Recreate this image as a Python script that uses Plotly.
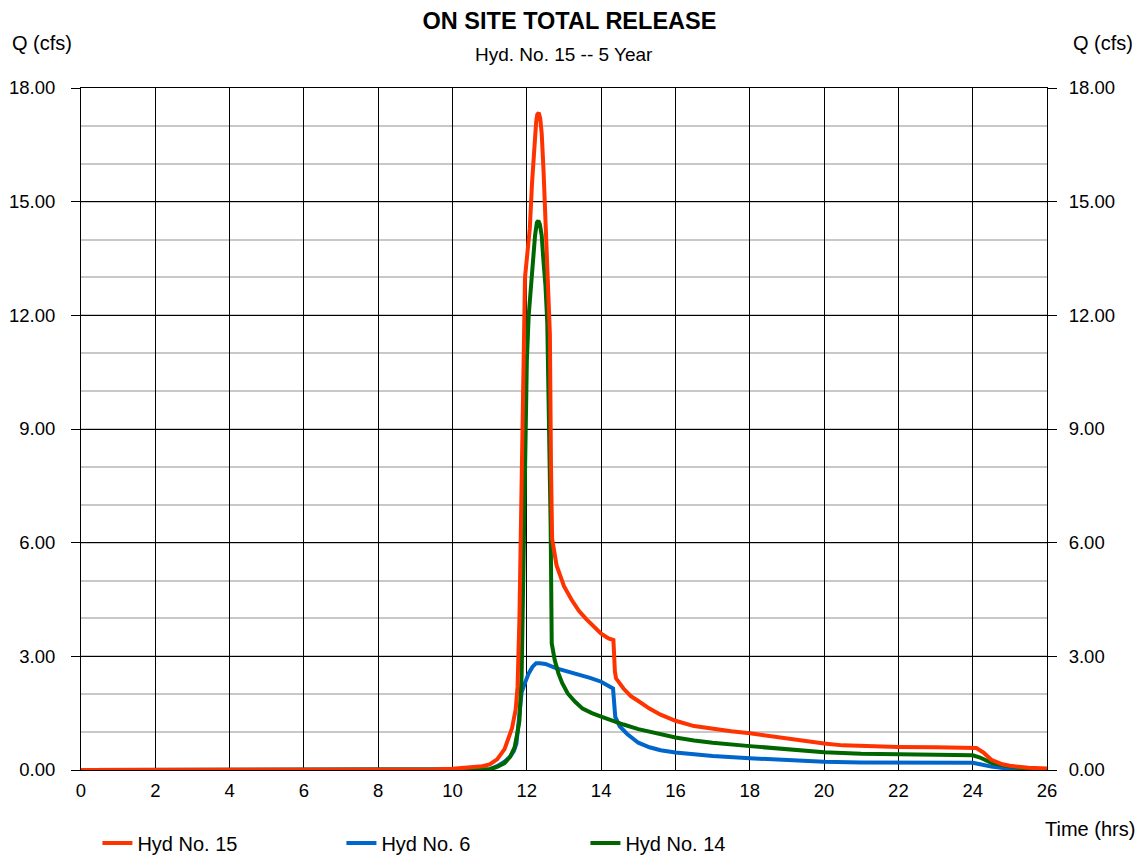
import plotly.graph_objects as go

# ---- data ----
t_hyd15 = [0, 9.0, 9.5, 10.0, 10.5, 10.8, 11.0, 11.2, 11.4, 11.5, 11.6, 11.7, 11.75, 11.8, 11.85,
           11.9, 11.95, 12.0, 12.08, 12.14, 12.2, 12.25, 12.28, 12.32, 12.36, 12.4, 12.45, 12.53,
           12.62, 12.65, 12.68,
           12.8, 12.9, 13.0, 13.2, 13.4, 13.6, 13.8, 14.0, 14.2, 14.33, 14.37, 14.4, 14.6, 14.8,
           15.0, 15.3, 15.6, 16.0, 16.5, 17.0, 17.5, 18.0, 18.5, 19.0, 19.5, 20.0, 20.5, 21.0,
           22.0, 23.0, 24.0, 24.1, 24.3, 24.5, 24.8, 25.0, 25.5, 26.0]
q_hyd15 = [0, 0.0, 0.01, 0.03, 0.06, 0.1, 0.15, 0.28, 0.55, 0.8, 1.1, 1.6, 2.2, 4.0, 7.0,
           11.5, 13.0, 13.5, 14.3, 15.5, 16.6, 17.1, 17.3, 17.35, 17.2, 16.8, 15.8, 14.0,
           11.5, 8.0, 6.1,
           5.4, 5.1, 4.85, 4.5, 4.2, 3.98, 3.78, 3.6, 3.47, 3.43, 2.6, 2.42, 2.15, 1.95,
           1.82, 1.62, 1.46, 1.3, 1.16, 1.08, 1.02, 0.97, 0.9, 0.84, 0.77, 0.7, 0.65, 0.63,
           0.61, 0.6, 0.59, 0.58, 0.45, 0.27, 0.15, 0.11, 0.06, 0.04]

t_hyd6 = [0, 10.8, 11.0, 11.2, 11.4, 11.55, 11.65, 11.72, 11.78, 11.86, 11.95, 12.05, 12.15, 12.25,
          12.35, 12.5, 12.8, 13.1, 13.4, 13.7, 14.0, 14.32, 14.38, 14.5, 14.7, 15.0, 15.3, 15.6,
          16.0, 16.5, 17.0, 18.0, 19.0, 20.0, 21.0, 22.0, 23.0, 24.0, 24.2, 24.5, 25.0, 25.5, 26.0]
q_hyd6 = [0, 0, 0.02, 0.1, 0.22, 0.35, 0.5, 0.7, 1.2, 2.05, 2.3, 2.55, 2.72, 2.82,
          2.82, 2.8, 2.68, 2.6, 2.5, 2.43, 2.33, 2.15, 1.4, 1.15, 0.95, 0.72, 0.6, 0.52,
          0.46, 0.41, 0.37, 0.31, 0.26, 0.22, 0.2, 0.19, 0.19, 0.19, 0.15, 0.09, 0.03, 0.01, 0.0]

t_hyd14 = [0, 10.5, 10.8, 11.0, 11.2, 11.4, 11.55, 11.67, 11.75, 11.8, 11.86, 11.9, 11.95, 12.0,
           12.05, 12.15, 12.22, 12.27, 12.31, 12.35, 12.4, 12.45, 12.5, 12.55, 12.6, 12.64, 12.67,
           12.75, 12.85, 12.95, 13.1, 13.3, 13.5, 13.75, 14.0, 14.3, 14.6, 15.0, 15.5, 16.0, 16.5,
           17.0, 18.0, 19.0, 20.0, 21.0, 22.0, 23.0, 24.0, 24.2, 24.5, 25.0, 25.5, 26.0]
q_hyd14 = [0, 0, 0.0, 0.02, 0.08, 0.18, 0.35, 0.6, 1.0, 1.3, 2.5, 5.0, 8.5, 10.8,
           12.0, 13.3, 14.1, 14.45, 14.5, 14.4, 14.1, 13.4, 12.8, 11.8, 9.0, 6.5, 3.34,
           2.9, 2.55, 2.3, 2.02, 1.8, 1.62, 1.5, 1.41, 1.3, 1.2, 1.08, 0.96, 0.86, 0.78,
           0.72, 0.63, 0.55, 0.47, 0.43, 0.41, 0.40, 0.39, 0.33, 0.19, 0.09, 0.03, 0.0]

x_ticks = list(range(0, 27, 2))
y_ticks = [0, 3, 6, 9, 12, 15, 18]

FONT = "Liberation Sans, Arial, sans-serif"

fig = go.Figure()
fig.add_trace(go.Scatter(x=t_hyd6, y=q_hyd6, mode="lines", name="Hyd No. 6",
                         line=dict(color="#0066CC", width=4), legendrank=2))
fig.add_trace(go.Scatter(x=t_hyd14, y=q_hyd14, mode="lines", name="Hyd No. 14",
                         line=dict(color="#006600", width=4), legendrank=3))
fig.add_trace(go.Scatter(x=t_hyd15, y=q_hyd15, mode="lines", name="Hyd No. 15",
                         line=dict(color="#FF3300", width=4), legendrank=1))
# invisible copy so that the right-hand axis is drawn
fig.add_trace(go.Scatter(x=t_hyd15, y=q_hyd15, mode="lines", yaxis="y2",
                         line=dict(color="rgba(0,0,0,0)", width=0), showlegend=False,
                         hoverinfo="skip"))

tick_font = dict(family=FONT, size=18.5, color="black")
label_font = dict(family=FONT, size=20, color="black")

fig.update_layout(
    width=1139, height=856,
    margin=dict(l=81, r=92, t=88, b=86, autoexpand=False),
    plot_bgcolor="white", paper_bgcolor="white",
    font=dict(family=FONT, color="black"),
    title=dict(text="<b>ON SITE TOTAL RELEASE</b>", x=0.5, xanchor="center",
               y=1 - 21 / 856, yanchor="middle", font=dict(family=FONT, size=23.5, color="black")),
    xaxis=dict(range=[0, 26], tickvals=x_ticks, ticktext=[str(v) for v in x_ticks],
               showgrid=True, gridcolor="black", gridwidth=1, zeroline=False,
               showline=True, linecolor="black", linewidth=1, mirror=True,
               ticks="", tickfont=tick_font, ticklabelstandoff=4),
    yaxis=dict(range=[0, 18], tickvals=y_ticks, tickformat=".2f",
               showgrid=True, gridcolor="black", gridwidth=1, zeroline=False,
               showline=True, linecolor="black", linewidth=1, mirror=True,
               ticks="outside", ticklen=9, tickcolor="black", tickfont=tick_font,
               ticklabelstandoff=12,
               minor=dict(dtick=1, tick0=0, showgrid=True, gridcolor="#c8c8c8", gridwidth=2)),
    yaxis2=dict(range=[0, 18], tickvals=y_ticks, tickformat=".2f", overlaying="y",
                side="right", anchor="x", showgrid=False, zeroline=False,
                ticks="outside", ticklen=9, tickcolor="black", tickfont=tick_font,
                ticklabelstandoff=8),
    legend=dict(orientation="h", x=0.017, y=(770 - 843) / 682, xanchor="left", yanchor="middle",
                entrywidth=199, entrywidthmode="pixels",
                font=dict(family=FONT, size=20, color="black"), bgcolor="rgba(0,0,0,0)"),
)

fig.add_annotation(text="Hyd. No. 15 -- 5 Year", xref="paper", yref="paper",
                   x=0.5, y=(770 - 54) / 682, xanchor="center", yanchor="middle",
                   showarrow=False, font=dict(family=FONT, size=19, color="black"))
fig.add_annotation(text="Q (cfs)", xref="paper", yref="paper",
                   x=(10 - 81) / 966, y=(770 - 43) / 682, xanchor="left", yanchor="middle",
                   showarrow=False, font=label_font)
fig.add_annotation(text="Q (cfs)", xref="paper", yref="paper",
                   x=(1135 - 81) / 966, y=(770 - 43) / 682, xanchor="right", yanchor="middle",
                   showarrow=False, font=label_font)
fig.add_annotation(text="Time (hrs)", xref="paper", yref="paper",
                   x=(1137 - 81) / 966, y=(770 - 829) / 682, xanchor="right", yanchor="middle",
                   showarrow=False, font=label_font)

fig.write_html("out.html")
